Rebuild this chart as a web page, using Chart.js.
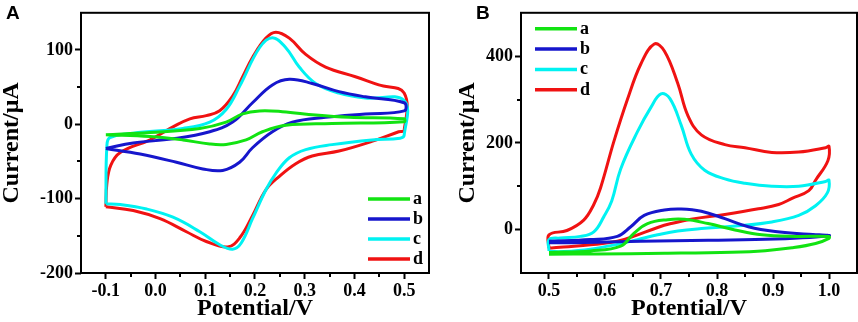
<!DOCTYPE html>
<html>
<head>
<meta charset="utf-8">
<script src="https://cdn.jsdelivr.net/npm/chart.js@4.4.1/dist/chart.umd.min.js"></script>
<style>
  body { margin: 0; background: #fff; }
  .wrap { position: relative; width: 858px; height: 322px; overflow: hidden; }
  canvas { position: absolute; top: 0; }
  .tag { position: absolute; top: 2.5px; font: bold 19px "Liberation Sans", Arial, sans-serif; line-height: 1; color: #000; }
</style>
</head>
<body>
<div class="wrap">
  <canvas id="cvA" width="430" height="322" style="left:0"></canvas>
  <canvas id="cvB" width="428" height="322" style="left:430px"></canvas>
  <div class="tag" style="left:6px">A</div>
  <div class="tag" style="left:476px">B</div>
</div>
<script>
// series names + colours
const seriesLabels = ['a', 'b', 'c', 'd'];
const seriesColors = ['#12e312', '#1616cc', '#00f2f2', '#f01212'];

// panel A: potential (V) / current (uA), one closed loop per series
const potA_a = [-0.1, -0.011, 0.089, 0.142, 0.175, 0.209, 0.255, 0.322, 0.389, 0.5, 0.5, 0.355, 0.262, 0.215, 0.182, 0.142, 0.109, 0.055, -0.011, -0.1];
const curA_a = [-14, -11, -5.5, 3, 14, 18, 17, 12.5, 9.5, 7.4, 3.5, 1, -1.3, -10, -21, -27, -26.5, -21, -16.5, -14];
const potA_b = [-0.1, -0.045, 0.035, 0.109, 0.155, 0.195, 0.235, 0.269, 0.315, 0.369, 0.422, 0.5, 0.5, 0.422, 0.342, 0.275, 0.235, 0.195, 0.169, 0.135, 0.095, 0.042, -0.031, -0.1];
const curA_b = [-32.5, -25, -19.5, -10, 3, 29, 53, 60.5, 55, 44, 37, 29, 18, 14, 9.5, 3, -10, -31.5, -51, -62, -60, -51, -40, -32.5];
const potA_c = [-0.1, -0.098, -0.092, -0.045, 0.055, 0.109, 0.142, 0.169, 0.209, 0.235, 0.262, 0.289, 0.322, 0.369, 0.422, 0.5, 0.5, 0.492, 0.435, 0.355, 0.302, 0.269, 0.242, 0.222, 0.195, 0.172, 0.155, 0.129, 0.089, 0.035, -0.018, -0.071, -0.1];
const curA_c = [-107, -30, -18, -12, -5.5, 3, 20, 51, 103, 116.5, 103, 77, 55, 42, 35.5, 32, -15, -18.6, -21, -27.3, -34, -45, -66, -88, -127, -160, -168, -162, -144.5, -125, -114, -108, -107];
const potA_d = [-0.1, -0.098, -0.09, -0.071, -0.011, 0.035, 0.069, 0.102, 0.129, 0.155, 0.175, 0.195, 0.222, 0.242, 0.269, 0.302, 0.342, 0.402, 0.449, 0.5, 0.5, 0.489, 0.435, 0.369, 0.315, 0.282, 0.249, 0.222, 0.195, 0.169, 0.145, 0.102, 0.062, 0.009, -0.045, -0.1];
const curA_d = [-111, -80, -55, -38, -20.8, -3.5, 7.4, 11.7, 18.2, 37.8, 63.8, 90, 116, 124, 116, 94, 77, 64, 53, 42, -8, -10, -23, -36, -42.6, -53, -70, -88, -123, -153, -165, -157.6, -144.5, -127, -116, -111];

// panel B
const potB_a = [0.5, 0.574, 0.628, 0.652, 0.676, 0.712, 0.742, 0.784, 0.832, 0.88, 0.94, 1.0, 1.0, 0.976, 0.934, 0.886, 0.826, 0.706, 0.586, 0.5];
const curB_a = [-52.8, -49, -38, -8, 14, 23, 23.8, 14, -0.7, -12, -15.6, -15.6, -20, -32, -42, -48.5, -52, -54.5, -56, -56.5];
const potB_b = [0.5, 0.574, 0.622, 0.646, 0.67, 0.706, 0.736, 0.772, 0.814, 0.856, 0.904, 0.964, 1.0, 0.904, 0.784, 0.664, 0.544, 0.5];
const curB_b = [-27, -23, -15.6, 6.7, 32.7, 45.3, 47.6, 42.4, 25.3, 6.7, -4.5, -10.5, -14, -21.6, -24.5, -26.8, -30, -30];
const potB_c = [0.5, 0.5, 0.52, 0.556, 0.58, 0.598, 0.612, 0.628, 0.658, 0.682, 0.7, 0.716, 0.736, 0.754, 0.778, 0.814, 0.85, 0.898, 0.946, 0.994, 1.0, 0.997, 0.976, 0.946, 0.898, 0.838, 0.778, 0.73, 0.694, 0.658, 0.622, 0.574, 0.526, 0.5];
const curB_c = [-49, -23, -19.4, -15.6, -5, 30, 66, 140, 226, 282, 313, 302, 241, 174, 137, 117, 107, 100, 100, 111, 114, 84.7, 55, 32.7, 17.8, 9, 3, -3, -11.9, -23, -34, -45, -50.5, -50.5];
const potB_d = [0.5, 0.5, 0.532, 0.562, 0.58, 0.592, 0.616, 0.64, 0.664, 0.688, 0.706, 0.73, 0.748, 0.772, 0.814, 0.85, 0.898, 0.946, 0.994, 1.0, 0.998, 0.976, 0.964, 0.934, 0.91, 0.874, 0.814, 0.754, 0.718, 0.694, 0.652, 0.622, 0.574, 0.526, 0.5];
const curB_d = [-43, -12, -2, 22, 58, 96, 204, 300, 382, 428, 412, 337, 263, 218.5, 196, 189, 178, 179, 189, 192, 159, 114, 90, 72, 58, 48, 35, 24, 14, 5, -15, -27, -35, -40, -43];

// axis ticks
const xTicksA = [-0.1, 0.0, 0.1, 0.2, 0.3, 0.4, 0.5];
const yTicksA = [-200, -100, 0, 100];
const xTicksB = [0.5, 0.6, 0.7, 0.8, 0.9, 1.0];
const yTicksB = [0, 200, 400];

const serif = '"Liberation Serif", "Times New Roman", serif';
const tickFont = { family: serif, size: 18, weight: 'bold' };
const titleFont = { family: serif, size: 24, weight: 'bold', lineHeight: 1 };

const toPoints = (xs, ys) => xs.map((x, i) => ({ x: x, y: ys[i] }));
const midpoints = (t) => t.slice(1).map((v, i) => (v + t[i]) / 2);

// frame, minor ticks and the little legend
const panelPlugin = {
  id: 'panel',
  afterDatasetsDraw(chart, args, opts) {
    const { ctx, chartArea: a } = chart;
    const x = chart.scales.x, y = chart.scales.y;
    ctx.save();
    ctx.strokeStyle = '#000';
    ctx.lineWidth = 2;
    ctx.strokeRect(a.left, a.top, a.right - a.left, a.bottom - a.top);

    ctx.beginPath();
    midpoints(opts.xTicks).forEach(v => {
      const px = Math.round(x.getPixelForValue(v));
      ctx.moveTo(px, a.bottom);
      ctx.lineTo(px, a.bottom + 4);
    });
    midpoints(opts.yTicks).forEach(v => {
      const py = Math.round(y.getPixelForValue(v));
      ctx.moveTo(a.left, py);
      ctx.lineTo(a.left - 4, py);
    });
    ctx.stroke();

    const lg = opts.legend;
    const x0 = lg.fromRight ? a.right - lg.dx : a.left + lg.dx;
    const y0 = lg.fromBottom ? a.bottom - lg.dy : a.top + lg.dy;
    ctx.font = 'bold 18px ' + serif;
    ctx.textBaseline = 'alphabetic';
    ctx.fillStyle = '#000';
    chart.data.datasets.forEach((ds, i) => {
      const ly = y0 + i * lg.gap;
      ctx.strokeStyle = ds.borderColor;
      ctx.lineWidth = 3.5;
      ctx.beginPath();
      ctx.moveTo(x0, ly);
      ctx.lineTo(x0 + 42, ly);
      ctx.stroke();
      ctx.fillText(ds.label, x0 + 45, ly + 5);
    });
    ctx.restore();
  }
};

const makeChart = (id, p) => {
  const datasets = seriesLabels.map((lab, i) => ({
    label: lab,
    data: toPoints(p.pots[i], p.curs[i]),
    borderColor: seriesColors[i],
    borderWidth: 3,
    showLine: true,
    pointRadius: 0,
    tension: 0.4
  }));

  return new Chart(document.getElementById(id), {
    type: 'scatter',
    data: { datasets: datasets },
    plugins: [panelPlugin],
    options: {
      responsive: false,
      animation: false,
      devicePixelRatio: 1,
      layout: { padding: { top: 4, right: 1, bottom: 0, left: p.padLeft } },
      plugins: {
        legend: { display: false },
        tooltip: { enabled: false },
        panel: { xTicks: p.xTicks, yTicks: p.yTicks, legend: p.legend }
      },
      scales: {
        x: {
          type: 'linear',
          min: p.xMin, max: p.xMax,
          afterBuildTicks: s => { s.ticks = p.xTicks.map(v => ({ value: v })); },
          afterFit: s => { s.height = 49; },
          ticks: { font: tickFont, color: '#000', padding: 2, maxRotation: 0, callback: v => v.toFixed(1) },
          grid: { drawOnChartArea: false, tickLength: 6, tickWidth: 2, tickColor: '#000' },
          border: { display: false },
          title: { display: true, text: 'Potential/V', font: titleFont, color: '#000', padding: { top: 0, bottom: 1 } }
        },
        y: {
          type: 'linear',
          min: p.yMin, max: p.yMax,
          afterBuildTicks: s => { s.ticks = p.yTicks.map(v => ({ value: v })); },
          afterFit: s => { s.width = p.yWidth; },
          ticks: { font: tickFont, color: '#000', padding: 2, callback: v => String(v) },
          grid: { drawOnChartArea: false, tickLength: 6, tickWidth: 2, tickColor: '#000' },
          border: { display: false },
          title: { display: true, text: 'Current/μA', font: titleFont, color: '#000', padding: { top: 0, bottom: 0 } }
        }
      }
    }
  });
};

makeChart('cvA', {
  pots: [potA_a, potA_b, potA_c, potA_d],
  curs: [curA_a, curA_b, curA_c, curA_d],
  xMin: -0.15, xMax: 0.55, yMin: -200, yMax: 150,
  xTicks: xTicksA, yTicks: yTicksA,
  padLeft: 0, yWidth: 81,
  legend: { fromRight: true, dx: 61, fromBottom: true, dy: 74, gap: 20 }
});

makeChart('cvB', {
  pots: [potB_a, potB_b, potB_c, potB_d],
  curs: [curB_a, curB_b, curB_c, curB_d],
  xMin: 0.45, xMax: 1.05, yMin: -100, yMax: 500,
  xTicks: xTicksB, yTicks: yTicksB,
  padLeft: 26, yWidth: 65,
  legend: { fromRight: false, dx: 14, fromBottom: false, dy: 16, gap: 20.3 }
});
</script>
</body>
</html>
